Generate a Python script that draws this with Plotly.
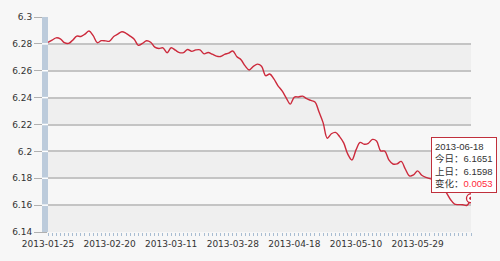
import plotly.graph_objects as go

# ---- data ----
rates = [
    6.2811, 6.2828, 6.2845, 6.2838, 6.2809, 6.2804, 6.2827, 6.2858, 6.2855, 6.2873,
    6.2896, 6.2861, 6.2809, 6.2824, 6.2822, 6.2820, 6.2855, 6.2873, 6.2890, 6.2879,
    6.2858, 6.2835, 6.2789, 6.2803, 6.2823, 6.2812, 6.2776, 6.2766, 6.2770, 6.2734,
    6.2771, 6.2753, 6.2735, 6.2735, 6.2758, 6.2744, 6.2755, 6.2756, 6.2726, 6.2736,
    6.2723, 6.2709, 6.2706, 6.2722, 6.2731, 6.2747, 6.2704, 6.2682, 6.2636, 6.2606,
    6.2632, 6.2649, 6.2634, 6.2563, 6.2576, 6.2539, 6.2488, 6.2450, 6.2398, 6.2352,
    6.2404, 6.2405, 6.2411, 6.2392, 6.2379, 6.2368, 6.2293, 6.2212, 6.2098, 6.2131,
    6.2141, 6.2110, 6.2063, 6.1979, 6.1936, 6.2011, 6.2067, 6.2053, 6.2060, 6.2089,
    6.2077, 6.2004, 6.2002, 6.1937, 6.1906, 6.1907, 6.1925, 6.1869, 6.1817, 6.1825,
    6.1855, 6.1822, 6.1806, 6.1797, 6.1785, 6.1766, 6.1737, 6.1693, 6.1642, 6.1607,
    6.1604, 6.1603, 6.1598, 6.1651,
]
x_idx = list(range(len(rates)))

x_tick_pos = [0, 15, 30, 45, 60, 75, 90]
x_tick_labels = ["2013-01-25", "2013-02-20", "2013-03-11", "2013-03-28",
                 "2013-04-18", "2013-05-10", "2013-05-29"]

y_ticks = [6.14, 6.16, 6.18, 6.20, 6.22, 6.24, 6.26, 6.28, 6.30]
y_tick_labels = ["6.14", "6.16", "6.18", "6.2", "6.22", "6.24", "6.26", "6.28", "6.3"]

last_date = "2013-06-18"
today_val = rates[-1]
prev_val = rates[-2]
change = today_val - prev_val

LINE_RED = "#cc2a3c"
TXT = "#333333"
FONT = "DejaVu Sans, Noto Sans CJK SC, sans-serif"
TIP_FONT = "Liberation Sans, Noto Sans CJK SC, sans-serif"

fig = go.Figure()
fig.add_trace(go.Scatter(
    x=x_idx, y=rates, mode="lines",
    line=dict(color=LINE_RED, width=1.4, shape="spline", smoothing=1.0),
    hoverinfo="skip", showlegend=False,
))
# highlighted last point
fig.add_trace(go.Scatter(
    x=[x_idx[-1]], y=[rates[-1]], mode="markers",
    marker=dict(size=9, color="white", line=dict(color="#c8283a", width=1.3)),
    hoverinfo="skip", showlegend=False,
))
fig.add_trace(go.Scatter(
    x=[x_idx[-1]], y=[rates[-1]], mode="markers",
    marker=dict(size=3.5, color="#c8283a"),
    hoverinfo="skip", showlegend=False,
))

shapes = []
# alternating bands
for k in range(len(y_ticks) - 1):
    if k % 2 == 0:
        shapes.append(dict(type="rect", xref="paper", yref="y", x0=0, x1=1,
                           y0=y_ticks[k], y1=y_ticks[k + 1],
                           fillcolor="#efefef", line=dict(width=0), layer="below"))
# left blue strip
shapes.append(dict(type="rect", xref="paper", yref="paper", xsizemode="pixel",
                   xanchor=0, x0=-6, x1=0, y0=0, y1=1,
                   fillcolor="#bccbdb", line=dict(width=0), layer="above"))
for t in y_ticks[1:-1]:
    shapes.append(dict(type="line", xref="paper", yref="y", xsizemode="pixel",
                       xanchor=0, x0=-6, x1=0, y0=t, y1=t,
                       line=dict(color="white", width=1.5), layer="above"))

fig.update_layout(
    width=500, height=261,
    margin=dict(l=42, r=29, t=14, b=28),
    paper_bgcolor="#f7f7f7", plot_bgcolor="#f7f7f7",
    font=dict(family=FONT, size=9, color=TXT),
    shapes=shapes,
    showlegend=False,
)
fig.update_xaxes(
    range=[0, len(rates) - 1],
    tickmode="array", tickvals=x_tick_pos, ticktext=x_tick_labels,
    ticks="outside", ticklen=3, tickcolor="#a9bdd2", tickwidth=1,
    minor=dict(dtick=1, tick0=0, ticks="outside", ticklen=3,
               tickcolor="#a9bdd2", tickwidth=1, showgrid=False),
    showgrid=False, zeroline=False, showline=False,
    tickfont=dict(family=FONT, size=9, color=TXT),
)
fig.update_yaxes(
    range=[6.14, 6.30],
    tickmode="array", tickvals=y_ticks, ticktext=y_tick_labels,
    ticks="outside", ticklen=13, tickcolor="#b0b0b0", tickwidth=1,
    showgrid=True, gridcolor="#c4c4c4", gridwidth=2,
    zeroline=False, showline=False,
    tickfont=dict(family=FONT, size=9, color=TXT),
)

tip = (f"{last_date}<br>今日：{today_val:.4f}<br>上日：{prev_val:.4f}<br>"
       f"变化：<span style='color:#ff2a3a'>{change:.4f}</span>")
fig.add_annotation(
    x=x_idx[-1], y=rates[-1], xref="x", yref="y",
    text=tip, showarrow=False, align="left",
    xanchor="right", yanchor="bottom", xshift=26, yshift=5,
    bgcolor="white", bordercolor="#c0303c", borderwidth=1, borderpad=3,
    font=dict(family=TIP_FONT, size=9.5, color=TXT),
)

fig.write_html("out.html")
